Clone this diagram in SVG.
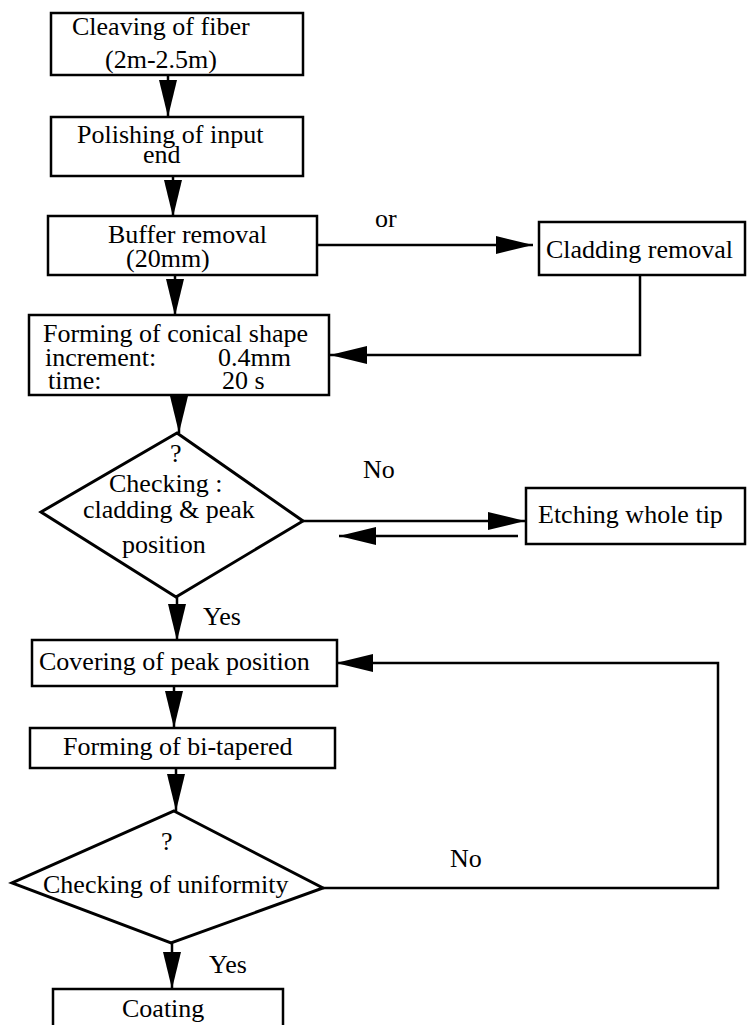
<svg xmlns="http://www.w3.org/2000/svg" width="747" height="1025" viewBox="0 0 747 1025">
<style>
.box{fill:#fff;stroke:#000;stroke-width:2.5}
.dia{fill:#fff;stroke:#000;stroke-width:3}
.ln{fill:none;stroke:#000;stroke-width:2.5}
text{font-family:"Liberation Serif","Times New Roman",serif;font-size:26px;fill:#000}
</style>
<defs>
<marker id="ah" markerUnits="userSpaceOnUse" markerWidth="38" markerHeight="18" refX="37" refY="9" orient="auto">
<path d="M0,0 L37,9 L0,18 Z" fill="#000"/>
</marker>
</defs>
<rect width="747" height="1025" fill="#fff"/>
<g id="connectors">
<line class="ln" x1="168" y1="75" x2="168" y2="117" marker-end="url(#ah)"/>
<line class="ln" x1="173" y1="176" x2="173" y2="217" marker-end="url(#ah)"/>
<line class="ln" x1="317" y1="245" x2="533" y2="245" marker-end="url(#ah)"/>
<polyline class="ln" points="640,275 640,355 330,355" marker-end="url(#ah)"/>
<line class="ln" x1="175" y1="275" x2="175" y2="316" marker-end="url(#ah)"/>
<line class="ln" x1="179" y1="395" x2="179" y2="433" marker-end="url(#ah)"/>
<line class="ln" x1="303" y1="521" x2="525" y2="521" marker-end="url(#ah)"/>
<line class="ln" x1="518" y1="536" x2="339" y2="536" marker-end="url(#ah)"/>
<line class="ln" x1="177" y1="597" x2="177" y2="641" marker-end="url(#ah)"/>
<polyline class="ln" points="323,888 718,888 718,663 336,663" marker-end="url(#ah)"/>
<line class="ln" x1="174" y1="686" x2="174" y2="728" marker-end="url(#ah)"/>
<line class="ln" x1="176" y1="768" x2="176" y2="811" marker-end="url(#ah)"/>
<line class="ln" x1="172" y1="943" x2="172" y2="989" marker-end="url(#ah)"/>
<text x="375" y="227">or</text>
<text x="363" y="478">No</text>
<text x="203" y="625">Yes</text>
<text x="450" y="867">No</text>
<text x="209" y="973">Yes</text>
</g>
<g id="cleaving">
<rect class="box" x="51" y="13" width="252" height="62"/>
<text x="72" y="35">Cleaving of fiber</text>
<text x="105" y="68">(2m-2.5m)</text>
</g>
<g id="polishing">
<rect class="box" x="51" y="117" width="252" height="59"/>
<text x="77" y="143">Polishing of input</text>
<text x="143" y="163">end</text>
</g>
<g id="buffer">
<rect class="box" x="48" y="216" width="269" height="59"/>
<text x="108" y="243">Buffer removal</text>
<text x="126" y="267">(20mm)</text>
</g>
<g id="cladding">
<rect class="box" x="539" y="222" width="206" height="53"/>
<text x="546" y="258">Cladding removal</text>
</g>
<g id="forming-conical">
<rect class="box" x="29" y="315" width="300" height="80"/>
<text x="43" y="342">Forming of conical shape</text>
<text x="45" y="366">increment:</text>
<text x="218" y="366">0.4mm</text>
<text x="48" y="389">time:</text>
<text x="222" y="389">20 s</text>
</g>
<g id="check-cladding">
<polygon class="dia" points="177,433 303,521 176,597 41,512"/>
<text x="170" y="462" font-size="24">?</text>
<text x="109" y="492">Checking :</text>
<text x="83" y="518">cladding &amp; peak</text>
<text x="122" y="553">position</text>
</g>
<g id="etching">
<rect class="box" x="526" y="488" width="219" height="56"/>
<text x="538" y="523">Etching whole tip</text>
</g>
<g id="covering">
<rect class="box" x="32" y="640" width="305" height="46"/>
<text x="39" y="670">Covering of peak position</text>
</g>
<g id="forming-bitapered">
<rect class="box" x="30" y="728" width="305" height="40"/>
<text x="63" y="755">Forming of bi-tapered</text>
</g>
<g id="check-uniformity">
<polygon class="dia" points="174,811 323,888 171,943 12,883"/>
<text x="161" y="850" font-size="24">?</text>
<text x="43" y="893">Checking of uniformity</text>
</g>
<g id="coating">
<rect class="box" x="53" y="989" width="230" height="50"/>
<text x="122" y="1017">Coating</text>
</g>
</svg>
